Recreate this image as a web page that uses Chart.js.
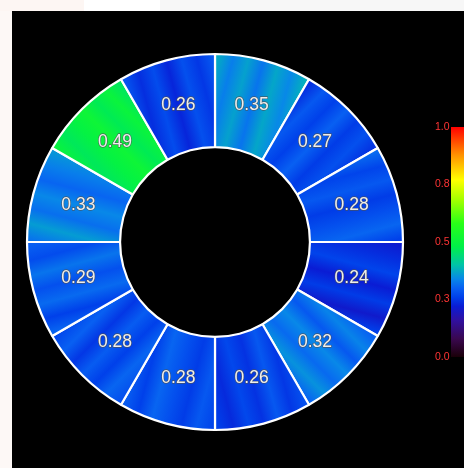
<!DOCTYPE html>
<html>
<head>
<meta charset="utf-8">
<script src="https://cdn.jsdelivr.net/npm/chart.js@4.4.0/dist/chart.umd.min.js"></script>
<style>
  html, body { margin:0; padding:0; width:464px; height:468px; overflow:hidden; background:#f7f7f7; }
  #strip1 { position:absolute; left:0; top:0; width:84px; height:11px; background:#fdf6f3; }
  #strip2 { position:absolute; left:84px; top:0; width:76px; height:11px; background:#ffffff; }
  #strip3 { position:absolute; left:0; top:11px; width:12px; height:457px; background:#fdf8f6; }
  #panel { position:absolute; left:12px; top:11px; width:452px; height:457px; background:#000; }
  #donutWrap { position:absolute; left:12px; top:11px; width:452px; height:457px; }
  #barWrap { position:absolute; left:420px; top:112px; width:44px; height:260px; }
</style>
</head>
<body>
<div id="strip1"></div><div id="strip2"></div><div id="strip3"></div>
<div id="panel"></div>
<div id="donutWrap"><canvas id="donut"></canvas></div>
<div id="barWrap"><canvas id="cbar"></canvas></div>
<script>
// ---- data ----
const sectors = ['S1','S2','S3','S4','S5','S6','S7','S8','S9','S10','S11','S12'];
const values  = [0.35, 0.27, 0.28, 0.24, 0.32, 0.26, 0.28, 0.28, 0.29, 0.33, 0.49, 0.26];
const colorbarTicks = [0, 0.25, 0.5, 0.75, 1];
// colormap stops (value -> colour)
const cmapPos = [0.00, 0.08, 0.16, 0.22, 0.26, 0.30, 0.34, 0.40, 0.48, 0.58, 0.68, 0.77, 0.88, 1.00];
const cmapCol = ['#1a0008','#3a0850','#3010a0','#0a1cd4','#0040ea','#0860f2','#0888e8','#00c4a8','#00f048','#28ff18','#a0ff00','#ffff00','#ff9000','#ff0000'];
// decorative streak offsets (texture style)
const streak = [0, 0.025, -0.02, 0.015, -0.03, 0.02, -0.01, 0.03, -0.015, 0.01, -0.025];

function hexRgb(h){ return [parseInt(h.slice(1,3),16),parseInt(h.slice(3,5),16),parseInt(h.slice(5,7),16)]; }
function cmap(v){
  v = Math.max(0, Math.min(1, v));
  for (let i=1;i<cmapPos.length;i++){
    if (v <= cmapPos[i]){
      const t = (v - cmapPos[i-1])/(cmapPos[i]-cmapPos[i-1]);
      const a = hexRgb(cmapCol[i-1]), b = hexRgb(cmapCol[i]);
      return 'rgb(' + a.map((x,k)=>Math.round(x+(b[k]-x)*t)).join(',') + ')';
    }
  }
  return cmapCol[cmapCol.length-1];
}

function segFill(ctx){
  const chart = ctx.chart, i = ctx.dataIndex, ca = chart.chartArea;
  const v = values[i];
  if (!ca || i === undefined) return cmap(v);
  const cx = (ca.left+ca.right)/2, cy = (ca.top+ca.bottom)/2;
  const n = values.length;
  const th = (i+0.5)*2*Math.PI/n;
  const r = 141;
  const px = cx + r*Math.sin(th), py = cy - r*Math.cos(th);
  const tx = Math.cos(th), ty = Math.sin(th);
  const g = chart.ctx.createLinearGradient(px-60*tx, py-60*ty, px+60*tx, py+60*ty);
  const N = 8;
  for (let k=0;k<=N;k++){
    g.addColorStop(k/N, cmap(v + streak[(i*3+k)%streak.length]));
  }
  return g;
}

const labelPlugin = {
  id:'segLabels',
  afterDatasetsDraw(chart){
    const c = chart.ctx;
    const meta = chart.getDatasetMeta(0);
    c.save();
    c.font = '17.5px "Liberation Sans", Arial, sans-serif';
    c.textAlign = 'center'; c.textBaseline = 'middle';
    c.lineJoin = 'round';
    meta.data.forEach((arc, i) => {
      const p = arc.tooltipPosition();
      const t = values[i].toFixed(2);
      c.strokeStyle = 'rgba(80,80,80,0.8)'; c.lineWidth = 1.3;
      c.strokeText(t, p.x, p.y);
      c.fillStyle = '#eeeeee';
      c.fillText(t, p.x, p.y);
    });
    c.restore();
  }
};

new Chart(document.getElementById('donut'), {
  type:'doughnut',
  data:{ labels:sectors, datasets:[{ data: values.map(()=>1), backgroundColor: segFill, borderColor:'#ffffff', borderWidth:2.2 }] },
  options:{
    responsive:true, maintainAspectRatio:false, animation:false, events:[],
    radius:188, cutout:'50.5%',
    layout:{ padding:{ left:0, right:46, top:5, bottom:0 } },
    plugins:{ legend:{display:false}, tooltip:{enabled:false} }
  },
  plugins:[labelPlugin]
});

function barFill(ctx){
  const ca = ctx.chart.chartArea;
  if (!ca) return cmap(0.5);
  const g = ctx.chart.ctx.createLinearGradient(0, ca.bottom, 0, ca.top);
  cmapPos.forEach((p,k)=>g.addColorStop(p, cmapCol[k]));
  return g;
}

new Chart(document.getElementById('cbar'), {
  type:'bar',
  data:{ labels:['scale'], datasets:[{ data:[colorbarTicks[colorbarTicks.length-1]], backgroundColor: barFill, borderWidth:0, barPercentage:1, categoryPercentage:1 }] },
  options:{
    responsive:true, maintainAspectRatio:false, animation:false, events:[],
    layout:{ padding:{ left:15, right:0, top:15, bottom:15 } },
    plugins:{ legend:{display:false}, tooltip:{enabled:false} },
    scales:{
      x:{ display:false },
      y:{ min:colorbarTicks[0], max:colorbarTicks[colorbarTicks.length-1],
          afterBuildTicks(s){ s.ticks = colorbarTicks.map(v=>({value:v})); },
          afterFit(s){ s.width = 16; },
          grid:{ display:false, drawTicks:false, tickLength:0 }, border:{ display:false },
          ticks:{ color:'#ff3434', padding:0, crossAlign:'far', font:{ size:10.5, family:'"Liberation Sans", Arial, sans-serif' }, callback:(v)=>Number(v).toFixed(1) } }
    }
  }
});
</script>
</body>
</html>
